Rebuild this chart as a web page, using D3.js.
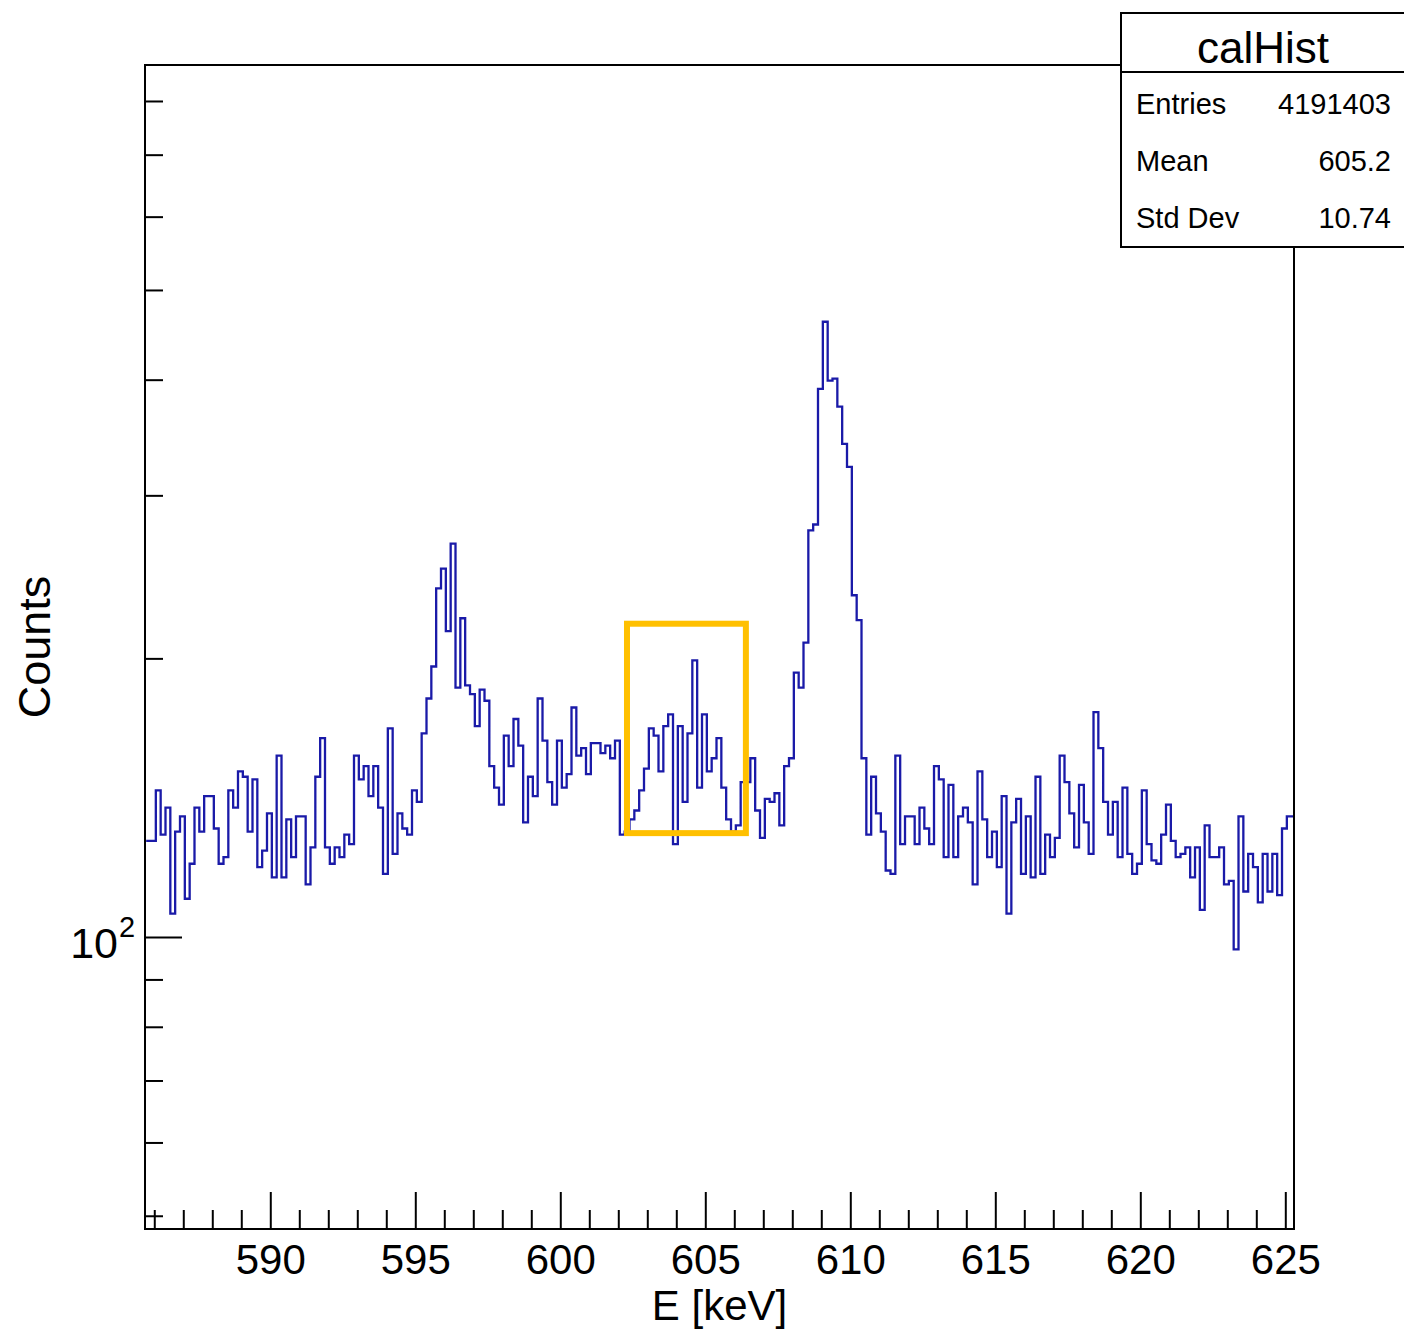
<!DOCTYPE html>
<html>
<head>
  <meta charset="utf-8">
  <title>calHist</title>
  <script src="https://d3js.org/d3.v7.min.js"></script>
  <style>
    html, body { margin: 0; background: #fff; overflow: hidden; }
    text { font-family: "Liberation Sans", Arial, Helvetica, sans-serif; fill: #000; }
  </style>
</head>
<body>
  <div id="chart"></div>
  <script>
    // histogram bins: 1/6 keV wide, first low edge near 585.72 keV
    const binStart = 585.72;
    const binWidth = 1 / 6;
    const counts = [
      127, 127, 144, 129, 138, 106, 130, 135, 110, 120,
      138, 130, 142, 142, 131, 120, 122, 144, 138, 151,
      149, 130, 148, 119, 124, 136, 116, 157, 116, 134,
      122, 135, 135, 114, 125, 149, 164, 125, 120, 125,
      122, 129, 126, 157, 148, 153, 142, 153, 138, 117,
      168, 123, 136, 131, 129, 144, 140, 166, 181, 196,
      238, 250, 214, 266, 186, 221, 187, 183, 169, 185,
      180, 153, 145, 139, 165, 153, 172, 161, 133, 149,
      142, 181, 163, 147, 139, 163, 145, 150, 177, 157,
      160, 150, 162, 162, 158, 161, 156, 163, 129, 130,
      134, 137, 144, 152, 168, 165, 151, 169, 174, 126,
      169, 140, 166, 199, 145, 174, 151, 156, 164, 145,
      134, 130, 132, 147, 147, 156, 137, 128, 141, 140,
      143, 132, 153, 156, 193, 186, 208, 275, 279, 391,
      462, 399, 401, 374, 341, 322, 234, 220, 156, 129,
      149, 136, 130, 118, 117, 157, 126, 135, 135, 126,
      138, 131, 126, 153, 148, 122, 146, 122, 135, 138,
      133, 114, 151, 134, 122, 130, 119, 142, 106, 133,
      141, 117, 135, 116, 149, 117, 129, 122, 128, 157,
      147, 136, 125, 146, 133, 123, 175, 160, 140, 129,
      140, 122, 145, 123, 117, 120, 144, 126, 121, 120,
      129, 139, 127, 122, 123, 125, 116, 125, 107, 132,
      122, 122, 125, 114, 115, 97, 135, 112, 123, 119,
      109, 123, 112, 123, 111, 131, 135, 135
    ];

    const xMajorTicks = [590, 595, 600, 605, 610, 615, 620, 625];
    const xMinorTicks = [586, 587, 588, 589, 591, 592, 593, 594, 596, 597, 598, 599,
      601, 602, 603, 604, 606, 607, 608, 609, 611, 612, 613, 614,
      616, 617, 618, 619, 621, 622, 623, 624];
    const yMajorTicks = [100];
    const yMinorTicks = [50, 60, 70, 80, 90, 200, 300, 400, 500, 600, 700, 800];

    const statsTitle = 'calHist';
    const statsLabels = ['Entries', 'Mean', 'Std Dev'];
    const statsValues = ['4191403', '605.2', '10.74'];

    // highlighted region (energy range, count range)
    const boxEnergy = [602.3, 606.4];
    const boxCounts = [129.5, 218];

    const W = 1404, H = 1334;
    const plotL = 145, plotR = 1294, plotT = 65, plotB = 1229;

    const svg = d3.select('#chart')
      .append('svg')
      .attr('width', W)
      .attr('height', H);

    svg.append('rect')
      .attr('width', W)
      .attr('height', H)
      .attr('fill', '#fff');

    const x = d3.scaleLinear().domain([585.68, 625.30]).range([plotL, plotR]);
    const y = d3.scaleLog().domain([48.38, 874.9]).range([plotB, plotT]);

    svg.append('clipPath')
      .attr('id', 'plot-clip')
      .append('rect')
      .attr('x', plotL)
      .attr('y', plotT)
      .attr('width', plotR - plotL)
      .attr('height', plotB - plotT);

    // histogram outline
    const pts = counts.map((c, i) => [binStart + i * binWidth, c]);
    pts.push([binStart + counts.length * binWidth, counts[counts.length - 1]]);

    const line = d3.line()
      .x(d => x(d[0]))
      .y(d => y(d[1]))
      .curve(d3.curveStepAfter);

    svg.append('path')
      .datum(pts)
      .attr('clip-path', 'url(#plot-clip)')
      .attr('fill', 'none')
      .attr('stroke', '#1a1aa8')
      .attr('stroke-width', 2.3)
      .attr('d', line);

    // axes, ticks pointing inwards (separate groups so minor and major both stay)
    svg.append('g')
      .attr('transform', `translate(0,${plotB})`)
      .call(d3.axisBottom(x).tickValues(xMinorTicks).tickSize(-19).tickSizeOuter(0).tickFormat(''));
    const gx = svg.append('g')
      .attr('transform', `translate(0,${plotB})`)
      .call(d3.axisBottom(x).tickValues(xMajorTicks).tickSize(-37).tickSizeOuter(0).tickPadding(15));

    svg.append('g')
      .attr('transform', `translate(${plotL},0)`)
      .call(d3.axisLeft(y).tickValues(yMinorTicks).tickSize(-18).tickSizeOuter(0).tickFormat(''));
    svg.append('g')
      .attr('transform', `translate(${plotL},0)`)
      .call(d3.axisLeft(y).tickValues(yMajorTicks).tickSize(-37).tickSizeOuter(0).tickFormat(''));

    svg.selectAll('.domain').remove();
    svg.selectAll('.tick line').attr('stroke', '#000').attr('stroke-width', 2);
    gx.selectAll('text')
      .attr('font-size', 42)
      .attr('font-family', '"Liberation Sans", Arial, sans-serif')
      .attr('fill', '#000');

    // 10^2 label
    const yl = svg.append('g');
    yMajorTicks.forEach(v => {
      yl.append('text')
        .attr('x', 118)
        .attr('y', y(v) + 21)
        .attr('text-anchor', 'end')
        .attr('font-size', 43)
        .text('10');
      yl.append('text')
        .attr('x', 119)
        .attr('y', y(v))
        .attr('font-size', 29)
        .text(Math.round(Math.log10(v)));
    });

    // frame
    svg.append('rect')
      .attr('x', plotL)
      .attr('y', plotT)
      .attr('width', plotR - plotL)
      .attr('height', plotB - plotT)
      .attr('fill', 'none')
      .attr('stroke', '#000')
      .attr('stroke-width', 2);

    // highlight box
    svg.append('rect')
      .attr('x', x(boxEnergy[0]))
      .attr('y', y(boxCounts[1]))
      .attr('width', x(boxEnergy[1]) - x(boxEnergy[0]))
      .attr('height', y(boxCounts[0]) - y(boxCounts[1]))
      .attr('fill', 'none')
      .attr('stroke', '#ffc000')
      .attr('stroke-width', 6);

    // axis titles
    svg.append('text')
      .attr('x', (plotL + plotR) / 2)
      .attr('y', 1320)
      .attr('text-anchor', 'middle')
      .attr('font-size', 42)
      .text('E [keV]');

    svg.append('text')
      .attr('transform', `translate(50,${(plotT + plotB) / 2}) rotate(-90)`)
      .attr('text-anchor', 'middle')
      .attr('font-size', 45)
      .text('Counts');

    // stats box
    const sb = svg.append('g');
    sb.append('rect')
      .attr('x', 1121)
      .attr('y', 13)
      .attr('width', 300)
      .attr('height', 234)
      .attr('fill', '#fff')
      .attr('stroke', '#000')
      .attr('stroke-width', 2);
    sb.append('line')
      .attr('x1', 1121).attr('x2', 1404)
      .attr('y1', 72).attr('y2', 72)
      .attr('stroke', '#000')
      .attr('stroke-width', 2);
    sb.append('text')
      .attr('x', 1263)
      .attr('y', 63)
      .attr('text-anchor', 'middle')
      .attr('font-size', 44)
      .text(statsTitle);
    statsLabels.forEach((lab, i) => {
      sb.append('text')
        .attr('x', 1136)
        .attr('y', 114 + i * 57)
        .attr('font-size', 29)
        .text(lab);
      sb.append('text')
        .attr('x', 1391)
        .attr('y', 114 + i * 57)
        .attr('text-anchor', 'end')
        .attr('font-size', 29)
        .text(statsValues[i]);
    });
  </script>
</body>
</html>
